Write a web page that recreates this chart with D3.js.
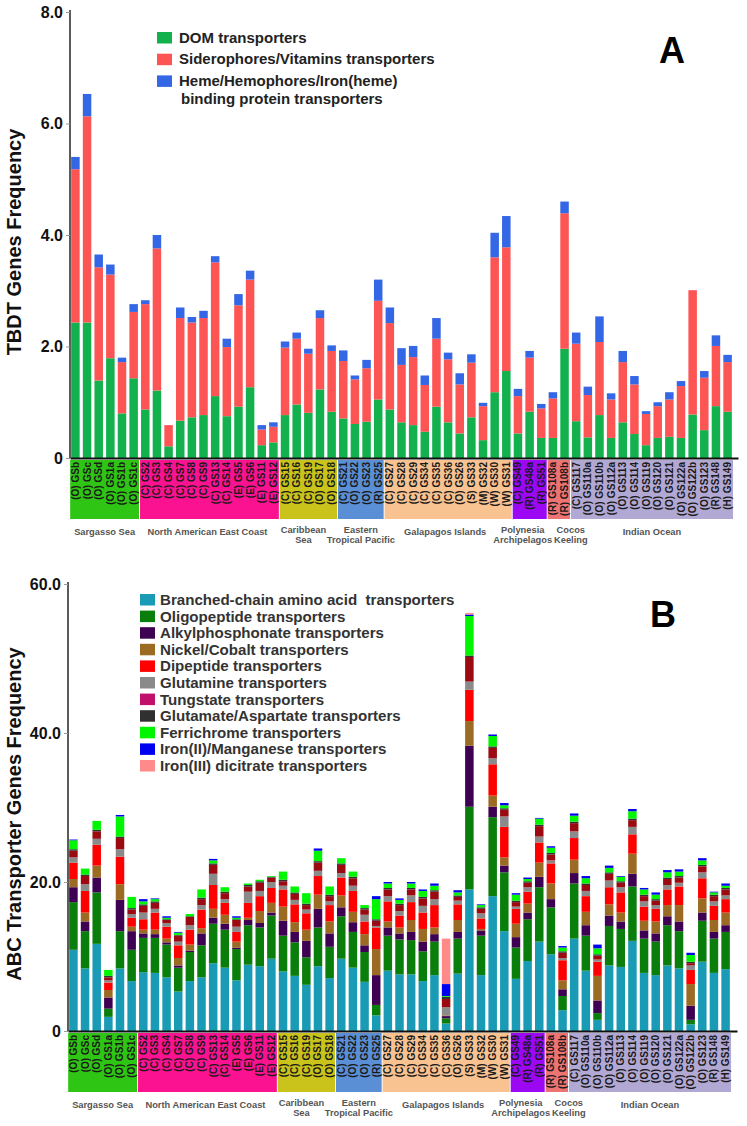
<!DOCTYPE html>
<html><head><meta charset="utf-8">
<script src="https://cdn.jsdelivr.net/npm/d3@7"></script>
<style>body{margin:0;background:#fff}svg{display:block;font-family:"Liberation Sans",Arial,sans-serif}</style>
</head><body><svg id="c" width="747" height="1126"></svg>
<script>
// ---------- categories ----------
const samples = ["(O) GSb","(O) GSc","(O) GSd","(O) GS1a","(O) GS1b","(O) GS1c",
 "(C) GS2","(C) GS3","(C) GS4","(C) GS7","(C) GS8","(C) GS9","(C) GS13","(C) GS14","(E) GS5","(E) GS6","(E) GS11","(E) GS12",
 "(C) GS15","(C) GS16","(C) GS19","(O) GS17","(O) GS18",
 "(C) GS21","(O) GS22","(O) GS23","(R) GS25",
 "(C) GS27","(C) GS28","(C) GS29","(C) GS34","(C) GS35","(C) GS36","(O) GS26","(S) GS33","(M) GS32","(W) GS30","(W) GS31",
 "(C) GS49","(R) GS48a","(R) GS51",
 "(R) GS108a","(R) GS108b",
 "(C) GS117","(O) GS110a","(O) GS110b","(O) GS112a","(O) GS113","(O) GS114","(O) GS119","(O) GS120","(O) GS121","(O) GS122a","(O) GS122b","(O) GS123","(R) GS148","(H) GS149"];
const regionNames = [["Sargasso Sea"],["North American East Coast"],["Caribbean","Sea"],["Eastern","Tropical Pacific"],["Galapagos Islands"],["Polynesia","Archipelagos"],["Cocos","Keeling"],["Indian Ocean"]];
const regionCounts = [6,12,5,4,11,3,2,14];
const regionColors = ["#2fc515","#fb1290","#c9c31c","#5a8fd5","#f8c291","#9c08f4","#ee7373","#b2a8d4"];

// ---------- panel A series ----------
const seriesA = ["DOM transporters","Siderophores/Vitamins transporters","Heme/Hemophores/Iron(heme)|binding protein transporters"];
const colorsA = ["#13b14d","#fd5454","#3467e6"];
const domA = [2.43,2.43,1.39,1.79,0.80,1.43, 0.87,1.21,0.21,0.67,0.73,0.77,1.11,0.75,0.92,1.27,0.23,0.28, 0.77,0.96,0.81,1.23,0.83, 0.71,0.61,0.65,1.05, 0.87,0.64,0.59,0.47,0.92,0.64,0.44,0.73,0.32,1.18,1.56, 0.44,0.83,0.36, 0.36,1.96, 0.66,0.37,0.77,0.36,0.64,0.43,0.23,0.36,0.38,0.36,0.78,0.50,0.93,0.83];
const sidA = [2.75,3.70,2.03,1.50,0.92,1.19, 1.89,2.55,0.38,1.84,1.70,1.74,2.40,1.24,1.82,1.93,0.28,0.28, 1.21,1.18,1.06,1.28,1.09, 1.03,0.80,0.96,1.77, 1.55,1.03,1.22,0.84,1.22,1.13,0.88,0.98,0.61,2.42,2.22, 0.67,0.97,0.53, 0.71,2.43, 1.39,0.76,1.31,0.69,1.08,0.89,0.56,0.57,0.67,0.93,2.23,0.94,1.08,0.89];
const hemeA = [0.22,0.40,0.23,0.18,0.08,0.14, 0.07,0.24,0.00,0.19,0.10,0.13,0.11,0.15,0.20,0.16,0.08,0.08, 0.11,0.11,0.09,0.14,0.10, 0.19,0.07,0.15,0.38, 0.28,0.30,0.20,0.17,0.37,0.12,0.20,0.15,0.06,0.44,0.56, 0.13,0.12,0.08, 0.11,0.21, 0.20,0.15,0.46,0.11,0.20,0.15,0.05,0.07,0.13,0.09,0.00,0.12,0.19,0.13];
const tickValsA = [0,2,4,6,8];
const tickLabsA = ["0","2.0","4.0","6.0","8.0"];

// ---------- panel B series ----------
const seriesB = ["Branched-chain amino acid  transporters","Oligopeptide transporters","Alkylphosphonate transporters","Nickel/Cobalt transporters","Dipeptide transporters","Glutamine transporters","Tungstate transporters","Glutamate/Aspartate transporters","Ferrichrome transporters","Iron(II)/Manganese transporters","Iron(III) dicitrate transporters"];
const colorsB = ["#1a9bb5","#0a7e0a","#3d0052","#9b6a23","#ff0000","#8a8a8a","#9a0a10","#303030","#00f500","#0000f0","#ff8a8a"];
const legendColorsB = ["#1a9bb5","#0a7e0a","#3d0052","#9b6a23","#ff0000","#8a8a8a","#c0106a","#303030","#00f500","#0000f0","#ff8a8a"];
const branched = [10.9,8.4,11.7,1.9,8.4,6.7, 7.9,7.8,7.2,5.3,6.7,7.2,9.1,8.5,6.8,8.9,8.7,9.7, 8.0,7.4,6.2,8.7,7.1, 9.7,8.5,6.6,2.1, 8.1,7.6,7.6,6.7,7.5,1.0,7.7,19.0,7.5,18.1,13.4, 7.0,9.4,12.0, 10.3,2.8, 12.4,8.1,1.5,8.8,8.6,12.1,7.8,7.5,8.8,8.4,0.9,9.3,7.8,8.3];
const oligo = [6.4,5.0,6.9,1.1,5.0,4.2, 4.6,4.7,4.4,3.2,3.9,4.3,5.3,5.1,4.2,5.3,5.2,5.8, 4.8,4.5,3.7,5.2,4.2, 5.7,4.8,4.0,1.4, 4.7,4.7,4.6,4.0,4.5,0.7,4.7,11.1,5.3,10.6,7.9, 4.2,5.6,7.3, 6.3,1.9, 7.4,4.7,0.9,5.3,5.1,7.3,4.6,4.5,5.4,5.0,0.6,5.5,4.6,5.0];
const alkyl = [2.0,1.3,2.0,1.5,4.2,2.5, 0.6,0.5,0.3,0.3,0.2,1.6,0.8,0.8,0.2,0.7,0.6,0.4, 2.0,1.4,2.2,2.5,1.8, 1.2,1.3,0.9,4.0, 1.1,0.8,1.1,1.3,1.0,0.3,0.9,8.2,0.7,1.4,0.9, 1.4,0.9,1.4, 1.1,0.9, 1.4,1.4,1.7,1.4,1.0,1.7,1.1,1.1,1.2,1.3,1.9,1.1,0.9,0.9];
const nickel = [1.1,1.2,1.6,1.0,2.1,0.6, 0.5,0.6,0.5,1.0,0.8,0.7,1.2,1.2,0.8,0.3,1.6,1.3, 1.9,1.3,1.5,1.9,1.6, 1.6,1.4,1.5,3.5, 0.8,0.8,1.6,1.7,0.9,0.1,1.6,3.3,0.2,1.5,1.1, 1.8,1.2,1.9, 2.1,1.2, 1.8,1.8,3.3,1.5,1.2,2.7,1.3,1.6,1.5,2.2,2.9,1.9,1.6,1.7];
const dipeptide = [2.2,2.9,2.8,1.0,3.7,1.2, 1.4,2.3,1.6,1.7,2.0,2.5,3.2,1.6,1.3,2.0,2.0,2.0, 2.3,2.4,2.2,2.5,2.2, 2.4,2.8,1.7,2.9, 2.7,1.6,2.4,2.2,3.0,0.0,2.1,4.2,1.4,4.2,4.1, 2.0,1.6,2.7, 2.7,2.7, 2.9,2.1,1.9,2.3,2.7,2.6,1.9,1.7,2.1,2.5,1.9,2.7,1.9,1.8];
const glutamine = [0.7,0.9,0.8,0.3,1.0,0.5, 0.9,0.5,0.5,0.5,0.6,0.6,1.5,0.5,0.7,1.5,0.7,0.8, 0.5,0.6,0.5,0.7,0.5, 0.6,0.7,0.9,0.2, 0.7,0.6,0.9,0.9,0.8,1.1,0.5,1.1,0.7,0.8,1.4, 0.3,0.6,0.8, 0.4,0.3, 0.9,0.7,0.3,0.9,0.7,1.0,0.7,0.5,0.6,0.5,0.6,0.8,0.6,0.5];
const tungstate = [0.9,1.1,1.0,0.4,1.5,0.6, 0.9,0.8,0.4,0.8,1.1,0.8,1.2,0.8,0.9,0.7,1.1,0.6, 0.6,0.8,0.6,1.1,0.7, 1.1,1.0,0.7,0.7, 0.9,0.8,0.8,1.0,1.0,1.1,0.5,3.3,0.6,1.4,0.9, 0.6,0.6,1.4, 0.8,0.7, 1.1,0.8,0.5,0.9,0.6,0.9,0.7,0.6,0.8,0.7,0.3,0.8,0.7,0.8];
const glutamate = [0.2,0.2,0.2,0.2,0.2,0.2, 0.2,0.2,0.1,0.1,0.1,0.2,0.2,0.2,0.1,0.2,0.2,0.1, 0.2,0.2,0.2,0.2,0.2, 0.2,0.2,0.2,0.2, 0.2,0.2,0.2,0.2,0.2,0.3,0.2,0.2,0.2,0.2,0.2, 0.2,0.2,0.2, 0.2,0.2, 0.2,0.2,0.2,0.2,0.2,0.2,0.2,0.2,0.2,0.2,0.2,0.2,0.2,0.2];
const ferrichrome = [1.2,0.8,1.2,0.8,2.7,1.5, 0.4,0.3,0.2,0.3,0.3,1.1,0.4,0.6,0.2,0.2,0.2,0.1, 1.1,0.8,1.4,1.4,1.1, 0.7,0.7,0.4,2.7, 0.6,0.5,0.6,0.8,0.6,0.1,0.4,5.3,0.3,1.4,0.4, 0.8,0.3,0.8, 0.7,0.5, 0.8,0.7,0.8,0.6,0.6,1.0,0.7,0.6,0.7,0.6,0.9,0.6,0.3,0.3];
const ironII = [0.1,0,0,0,0.2,0, 0.3,0.1,0.2,0.1,0,0,0.2,0,0.2,0,0,0, 0,0,0,0.3,0, 0,0,0,0.4, 0.2,0.2,0.2,0.2,0.3,1.6,0.3,0.2,0.1,0.2,0.3, 0.2,0.2,0.1, 0.2,0.2, 0.3,0.3,0.5,0.3,0.1,0.3,0.2,0.3,0.3,0.3,0.3,0.3,0.1,0.3];
const ironIII = [0,0,0,0,0,0, 0,0,0,0,0,0,0,0,0,0,0,0, 0,0,0,0,0, 0,0,0,0, 0,0,0,0,0,6.1,0,0.2,0,0,0, 0,0,0, 0,0, 0,0,0,0,0,0,0,0,0,0,0,0,0,0];
const tickValsB = [0,20,40,60];
const tickLabsB = ["0","20.0","40.0","60.0"];

// ---------- drawing ----------
const svg = d3.select("#c");
const regionLabelDx = [0,-2,-5,0,-3,-7,12,0];

function drawPanel(o) {
  const g = svg.append("g");
  const x = d3.scaleBand().domain(samples).range([o.x0, o.x1]).paddingInner(0.27).paddingOuter(0.1);
  const y = d3.scaleLinear().domain([0, o.ymax]).range([o.yBase, o.yTop]);
  const rows = samples.map((s, i) => { const r = {s}; o.keys.forEach((k, j) => r[k] = o.vals[j][i]); return r; });
  const stacked = d3.stack().keys(o.keys)(rows);
  g.selectAll("g.ser").data(stacked).join("g").attr("fill", (d, i) => o.colors[i])
    .selectAll("rect").data(d => d).join("rect")
    .attr("x", d => x(d.data.s)).attr("width", x.bandwidth())
    .attr("y", d => y(d[1])).attr("height", d => Math.max(0, y(d[0]) - y(d[1])));

  // y axis
  const ya = g.append("g").attr("transform", `translate(${o.axisX},0)`)
    .call(d3.axisLeft(y).tickValues(o.tickVals).tickFormat((d, i) => o.tickLabs[i]).tickSize(4).tickPadding(3));
  ya.select(".domain").attr("stroke", "#333").attr("stroke-width", 1.6).attr("d", `M0,${o.yBase}V${o.yTop - 2}`);
  ya.selectAll(".tick line").attr("stroke", "#999");
  ya.selectAll("text").attr("font-size", 16).attr("font-weight", "bold").attr("fill", "#111").attr("font-family", "Liberation Sans, Arial, sans-serif");

  // x axis baseline
  const xl = d3.scaleLinear().range([o.axisX, o.xEnd]);
  const xa = g.append("g").attr("transform", `translate(0,${o.yBase})`).call(d3.axisBottom(xl).tickValues([]).tickSizeOuter(0));
  xa.select(".domain").attr("stroke", "#111").attr("stroke-width", 2);

  // region blocks
  let idx = 0;
  regionCounts.forEach((n, r) => {
    const first = samples[idx], last = samples[idx + n - 1];
    const bx0 = x(first) - 1, bx1 = x(last) + x.bandwidth() + 1.2;
    g.append("rect").attr("x", bx0).attr("y", o.blockTop).attr("width", bx1 - bx0).attr("height", o.blockH).attr("fill", regionColors[r]);
    const cx = (bx0 + bx1) / 2 + regionLabelDx[r];
    const lines = regionNames[r];
    const t = g.append("text").attr("text-anchor", "middle").attr("font-size", 9.3).attr("font-weight", "bold").attr("fill", "#555");
    const by = lines.length === 1 ? o.blockTop + o.blockH + 16 : o.blockTop + o.blockH + 13.5;
    lines.forEach((l, k) => t.append("tspan").attr("x", cx).attr("y", by + k * 10.5).text(l));
    idx += n;
  });
  // sample labels
  g.selectAll("text.lab").data(samples).join("text").attr("class", "lab")
    .attr("transform", d => `translate(${x(d) + x.bandwidth() / 2 + 3.5},${o.blockTop + 2}) rotate(-90)`)
    .attr("text-anchor", "end").attr("font-size", 10).attr("font-weight", "bold").attr("fill", "#1a1a1a")
    .text(d => d);

  // y title
  g.append("text").attr("transform", `translate(${o.titleX},${o.titleY}) rotate(-90)`).attr("text-anchor", "middle")
    .attr("font-size", 20).attr("font-weight", "bold").attr("fill", "#111").text(o.title);
  // panel letter
  g.append("text").attr("x", o.letterX).attr("y", o.letterY).attr("text-anchor", "middle").attr("font-size", 36)
    .attr("font-weight", "bold").attr("fill", "#000").text(o.letter);
  return g;
}

const gA = drawPanel({keys: ["dom","sid","heme"], vals: [domA, sidA, hemeA], colors: colorsA,
  x0: 70, x1: 733, ymax: 8, yBase: 458, yTop: 12, axisX: 70, xEnd: 738,
  tickVals: tickValsA, tickLabs: tickLabsA, blockTop: 460, blockH: 59,
  title: "TBDT Genes Frequency", titleX: 21, titleY: 242, letter: "A", letterX: 672, letterY: 63});

const gB = drawPanel({keys: ["b","o","a","n","d","q","t","e","f","m","c"],
  vals: [branched, oligo, alkyl, nickel, dipeptide, glutamine, tungstate, glutamate, ferrichrome, ironII, ironIII], colors: colorsB,
  x0: 68, x1: 731, ymax: 60, yBase: 1031, yTop: 584, axisX: 68, xEnd: 737,
  tickVals: tickValsB, tickLabs: tickLabsB, blockTop: 1033, blockH: 59,
  title: "ABC Transporter Genes Frequency", titleX: 21, titleY: 814, letter: "B", letterX: 663, letterY: 627});

// legend A
seriesA.forEach((s, i) => {
  const yy = 32 + i * 21.7;
  gA.append("rect").attr("x", 157).attr("y", yy).attr("width", 15).attr("height", 11.5).attr("fill", colorsA[i]);
  const t = gA.append("text").attr("font-size", 15).attr("font-weight", "bold").attr("fill", "#222");
  s.split("|").forEach((l, k) => t.append("tspan").attr("x", k ? 181 : 179).attr("y", yy + 10.5 + k * 18).text(l));
});
// legend B
seriesB.forEach((s, i) => {
  const yy = 594 + i * 16.6;
  gB.append("rect").attr("x", 140).attr("y", yy).attr("width", 15).attr("height", 11.5).attr("fill", legendColorsB[i]);
  gB.append("text").attr("x", 160).attr("y", yy + 11).attr("font-size", 15.1).attr("font-weight", "bold").attr("fill", "#333")
    .style("white-space", "pre").text(s);
});
</script></body></html>
